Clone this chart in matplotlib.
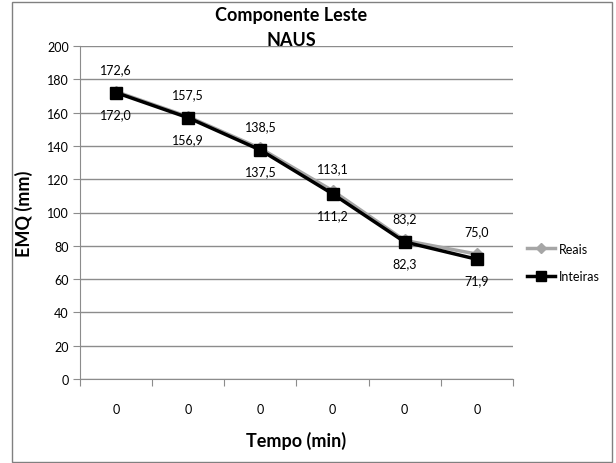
import numpy as np
import matplotlib
matplotlib.use('Agg')
import matplotlib.pyplot as plt
from matplotlib.patches import Rectangle

plt.rcParams['font.family'] = ['Lato', 'DejaVu Sans']

# data
categorias = ['0', '0', '0', '0', '0', '0']
reais = [172.6, 157.5, 138.5, 113.1, 83.2, 75.0]
inteiras = [172.0, 156.9, 137.5, 111.2, 82.3, 71.9]
rotulos_reais = ['172,6', '157,5', '138,5', '113,1', '83,2', '75,0']
rotulos_inteiras = ['172,0', '156,9', '137,5', '111,2', '82,3', '71,9']

fig = plt.figure(figsize=(6.16, 4.64), dpi=100, facecolor='w')
fig.patches.append(Rectangle((12/616, 1/464), 600/616, 460/464, transform=fig.transFigure,
                             fill=False, edgecolor='#808080', linewidth=1.0))
ax = fig.add_axes([80/616, 1-380/464, 433/616, 333/464])

x = np.arange(len(categorias))
ax.plot(x, reais, color='#A6A6A6', marker='D', markersize=6, linewidth=2.5, label='Reais', zorder=3)
ax.plot(x, inteiras, color='black', marker='s', markersize=8, linewidth=2.5, label='Inteiras', zorder=4)

for i in range(len(x)):
    ax.annotate(rotulos_reais[i], (x[i], reais[i]), xytext=(0, 12), textcoords='offset points',
                ha='center', va='bottom', fontsize=9, color='black')
    ax.annotate(rotulos_inteiras[i], (x[i], inteiras[i]), xytext=(0, -11), textcoords='offset points',
                ha='center', va='top', fontsize=9, color='black')

ax.set_xlim(-0.5, 5.5)
ax.set_ylim(0, 200)
ax.set_yticks(np.arange(0, 201, 20))
ax.grid(axis='y', color='#8C8C8C', linewidth=1.0)
ax.set_axisbelow(True)

ax.set_xticks(np.arange(-0.5, 6, 1))
ax.set_xticklabels([])
ax.set_xticks(x, minor=True)
ax.set_xticklabels(categorias, minor=True)
ax.tick_params(axis='x', which='major', length=5, direction='out', color='#8C8C8C')
ax.tick_params(axis='x', which='minor', length=0, pad=17, labelsize=9)
ax.tick_params(axis='y', length=5, color='#8C8C8C', labelsize=9, pad=3)

for s in ['top', 'right']:
    ax.spines[s].set_visible(False)
for s in ['left', 'bottom']:
    ax.spines[s].set_color('#8C8C8C')

ax.set_xlabel('Tempo (min)', fontsize=13, fontweight='bold', labelpad=12)
ax.set_ylabel('EMQ (mm)', fontsize=13, fontweight='bold', labelpad=10)

fig.text(291/616, 1-16/464, 'Componente Leste', ha='center', va='center', fontsize=13, fontweight='bold')
fig.text(291/616, 1-40/464, 'NAUS', ha='center', va='center', fontsize=13, fontweight='bold')

ax.legend(loc='center left', bbox_to_anchor=(1.02, 0.35), frameon=False, fontsize=9,
          handlelength=2.3, labelspacing=1.25, handletextpad=0.3, borderaxespad=0,
          markerscale=0.85)

fig.savefig('out.png', dpi=100)
